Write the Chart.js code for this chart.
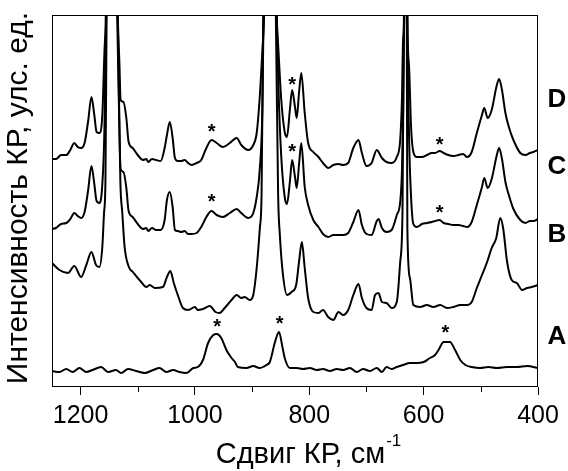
<!DOCTYPE html>
<html>
<head>
<meta charset="utf-8">
<script src="https://cdn.jsdelivr.net/npm/chart.js@4"></script>
<style>
  html, body { margin: 0; padding: 0; background: #fff; }
  #wrap { width: 568px; height: 471px; position: relative; }
</style>
</head>
<body>
<div id="wrap"><canvas id="myChart"></canvas></div>
<script>
// Raman shift (cm-1) and intensity (a.u., spectra already offset) for each sample
const shiftA = [1250,1237,1225,1214,1202,1190,1179,1164,1152,1138,1129,1117,1103,1088,1073,1062,1050,1038,1027,1015,1003,995,986,977,968,962,954,945,936,930,925,910,898,887,875,869,860,853,847,843,834,822,811,799,787,776,764,752,741,729,717,706,694,682,673,665,656,647,636,624,612,600,589,580,574,565,554,545,536,527,516,501,487,472,454,437,419,400];
const intA   = [16,15,18,15,19,15,17,20,15,17,14,18,16,14,17,19,15,17,15,14,19,20,27,44,52,53,49,37,29,25,20,19,21,19,22,25,45,55,40,29,19,19,18,19,17,18,16,18,17,19,15,18,16,19,15,20,18,20,22,24,24,25,29,32,37,45,45,37,27,22,20,19,20,19,20,20,21,19];

const shiftB = [1250,1237,1222,1211,1199,1190,1181,1173,1167,1162,1159,1156.5,1154.5,1145,1135,1130.5,1127,1123,1115.5,1108.5,1101.5,1094,1085,1079,1070,1056,1049,1043,1037,1030,1021,1012,1000,995,986,974,964,957,948,936,927,919,913,904,898,892,886.5,883.5,880.5,868,858.5,854.5,851.5,846,839,831,823,818,813,808,802,793,784,776,767,758,749,741,732,723,714,708,700,691,685,679,673,665,656,647,641,637,634.5,632,629.5,628.5,624,618,606,594.5,583,571,559,548,536,524,516,507,498,489,481,473,466,461,454,446,437,428,419,411,400];
const intB   = [124,117,114,121,110,122,135,122,120,140,174,207,372,700,372,207,174,140,120,115,110,105,100,102,99,100,110,116,104,92,79,77,80,77,78,81,75,74,79,87,92,89,90,87,92,119,159,192,372,700,372,192,152,112,92,95,102,125,145,119,89,75,74,77,70,67,75,72,77,92,103,89,79,77,92,94,85,84,79,85,125,175,372,700,372,159,109,82,80,82,80,82,79,80,82,82,85,99,112,125,139,149,169,159,125,107,104,97,99,100,102];

const shiftC = [1250,1243,1234,1225,1218,1211,1205,1199,1193,1187,1181,1176,1172,1167,1162,1158,1156,1145,1136,1132,1130,1125,1120,1116,1109,1100,1091,1085,1082,1075,1068,1060,1053,1049,1044,1039,1035,1030,1024,1018,1012,1006,997,989,980,971,962,951,939,927,919,907,898,892,887,882,880,868,857,854,849,843,839,834,830,825,822,818,814,808,802,793,784,776,767,758,749,741,732,723,714,708,700,691,682,679,673,665,656,647,641,638,636,634,631,628.5,625.5,622,618,612,603,594,586,580,572,565,557,548,539,531,524,516,507,498,494,488,481,472,468,463,457,451,443,431,422,414,408,400];
const intC   = [158,159,163,164,168,174,171,169,175,196,221,203,186,184,203,268,372,700,372,253,218,215,199,176,170,163,158,159,156,159,157,157,167,187,195,180,157,156,155,156,153,153,154,160,170,176,172,170,174,178,174,169,174,190,215,280,372,700,372,300,230,190,183,205,227,210,199,222,244,200,182,167,160,153,150,152,152,152,154,165,177,162,153,152,166,168,159,155,157,172,185,215,270,372,700,372,250,190,163,160,163,164,165,166,167,164,163,162,162,161,160,165,182,200,209,199,208,232,239,228,205,192,178,167,164,166,166,168];

const shiftD = [1250,1243,1234,1225,1218,1211,1205,1199,1193,1187,1181,1176,1172,1167,1162,1158,1155,1145,1135,1132,1130,1125,1120,1116,1109,1100,1091,1085,1082,1075,1068,1060,1053,1049,1044,1039,1035,1030,1024,1018,1012,1006,997,989,980,971,962,951,939,927,919,907,898,892,887,882,879,868,857,854,849,843,839,834,830,825,822,818,814,808,802,793,784,776,767,758,749,741,732,723,714,708,700,691,682,673,665,656,647,641,638,636,634,631,628.5,625.5,622,618,612,603,594,586,580,572,565,557,548,539,531,524,516,507,498,494,488,481,472,468,463,457,451,443,431,422,414,408,400];
const intD   = [228,228,232,232,237,244,240,239,244,265,290,272,255,254,272,339,372,700,372,322,287,285,269,245,239,232,227,228,225,228,227,226,239,252,265,249,229,226,226,227,224,222,224,227,239,247,244,240,244,249,242,237,242,254,287,337,372,700,372,337,287,255,250,277,297,280,269,294,314,274,244,235,230,224,219,222,223,222,224,239,247,234,221,224,237,229,225,224,230,247,287,347,372,700,372,320,260,235,230,230,232,234,234,236,234,232,231,232,233,230,235,254,272,279,269,277,302,308,297,274,260,247,234,232,234,235,237];

// x axis ticks
const majorTicks = [1200, 1000, 800, 600, 400];
const minorTicks = [1100, 900, 700, 500];

// asterisks (solvent bands) and curve labels
const starShift = [971, 830, 572, 971, 830, 572, 961, 852, 562];
const starInt   = [260, 307, 247, 190, 240, 179, 65, 68, 59];
const labelText = ['A', 'B', 'C', 'D'];
const labelInt  = [50, 152, 220, 287];

const FONT = '"Liberation Sans", Arial, sans-serif';

function toPoints(xs, ys) {
  return xs.map((v, i) => ({ x: v, y: ys[i] }));
}

const series = [
  toPoints(shiftA, intA),
  toPoints(shiftB, intB),
  toPoints(shiftC, intC),
  toPoints(shiftD, intD)
];

const decor = {
  id: 'decor',
  afterDatasetsDraw(chart) {
    const { ctx, chartArea: a, scales: { x, y } } = chart;
    ctx.save();
    ctx.strokeStyle = '#000';
    ctx.fillStyle = '#000';

    // frame
    ctx.lineWidth = 1;
    ctx.strokeRect(Math.round(a.left) + 0.5, Math.round(a.top) + 0.5,
      Math.round(a.right - a.left) - 1, Math.round(a.bottom - a.top) - 1);

    // minor ticks
    minorTicks.forEach(v => {
      const px = Math.round(x.getPixelForValue(v)) + 0.5;
      ctx.beginPath();
      ctx.moveTo(px, a.bottom);
      ctx.lineTo(px, a.bottom + 5);
      ctx.stroke();
    });

    // asterisks
    ctx.font = 'bold 20px ' + FONT;
    ctx.textAlign = 'center';
    ctx.textBaseline = 'alphabetic';
    starShift.forEach((s, i) => {
      ctx.fillText('*', x.getPixelForValue(s), y.getPixelForValue(starInt[i]) + 11);
    });

    // curve labels
    ctx.font = 'bold 26px ' + FONT;
    ctx.textBaseline = 'middle';
    labelText.forEach((t, i) => {
      ctx.fillText(t, a.right + 19, y.getPixelForValue(labelInt[i]));
    });

    // x title with superscript
    ctx.textAlign = 'left';
    ctx.textBaseline = 'alphabetic';
    const main = 'Сдвиг КР, см';
    const sup = '-1';
    ctx.font = '29px ' + FONT;
    const wMain = ctx.measureText(main).width;
    ctx.font = '17px ' + FONT;
    const wSup = ctx.measureText(sup).width;
    const x0 = (a.left + a.right) / 2 + 13 - (wMain + wSup) / 2;
    ctx.font = '29px ' + FONT;
    ctx.fillText(main, x0, 463);
    ctx.font = '17px ' + FONT;
    ctx.fillText(sup, x0 + wMain + 1, 446);

    // y title
    ctx.translate(19, (a.top + a.bottom) / 2 - 3);
    ctx.rotate(-Math.PI / 2);
    ctx.textAlign = 'center';
    ctx.textBaseline = 'middle';
    ctx.font = '30px ' + FONT;
    ctx.fillText('Интенсивность КР, улс. ед.', 0, 0);
    ctx.restore();
  }
};

const ctx = document.getElementById('myChart').getContext('2d');

new Chart(ctx, {
  type: 'line',
  data: {
    datasets: series.map(pts => ({
      data: pts,
      borderColor: '#000',
      borderWidth: 2,
      pointRadius: 0,
      cubicInterpolationMode: 'monotone',
      fill: false
    }))
  },
  options: {
    responsive: true,
    maintainAspectRatio: false,
    animation: false,
    events: [],
    devicePixelRatio: 1,
    layout: { padding: { left: 52, right: 30, top: 15, bottom: 34 } },
    scales: {
      x: {
        type: 'linear',
        reverse: true,
        min: 400,
        max: 1250,
        afterBuildTicks: axis => {
          axis.ticks = majorTicks.map(v => ({ value: v }));
        },
        ticks: {
          color: '#000',
          font: { family: FONT, size: 25 },
          padding: 6,
          maxRotation: 0,
          autoSkip: false,
          callback: v => String(v)
        },
        grid: {
          drawOnChartArea: false,
          drawTicks: true,
          tickLength: 8,
          color: '#000'
        },
        border: { display: false }
      },
      y: {
        display: false,
        min: 0,
        max: 372
      }
    },
    plugins: {
      legend: { display: false },
      tooltip: { enabled: false }
    }
  },
  plugins: [decor]
});
</script>
</body>
</html>
